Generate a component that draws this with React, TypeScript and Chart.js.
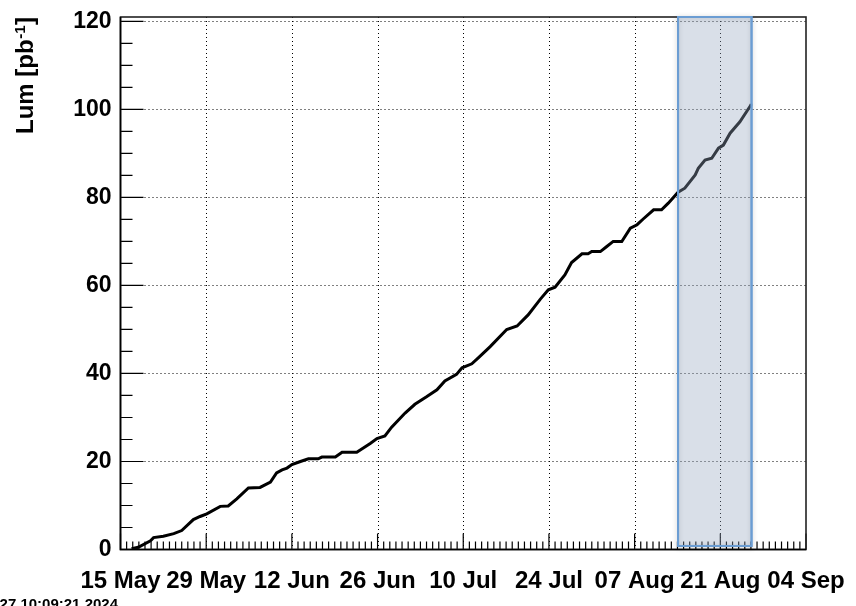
import { useEffect, useRef } from "react";
import { Chart, registerables } from "chart.js";

Chart.register(...registerables);

// Days since 15 May 2024
const xTickDays = [0, 14, 28, 42, 56, 70, 84, 98, 112];
const xTickLabels = ["15 May", "29 May", "12 Jun", "26 Jun", "10 Jul", "24 Jul", "07 Aug", "21 Aug", "04 Sep"];
const yTicks = [0, 20, 40, 60, 80, 100, 120];

const days = [
  1.8, 2.9, 4.9, 5.4, 7.0, 8.7, 10.0, 11.9, 13.0, 14.1, 16.3, 17.6, 19.0, 20.9, 22.8, 24.5, 25.5, 26.4, 27.2, 28.0,
  29.4, 30.7, 32.3, 32.9, 35.1, 36.2, 38.6, 40.8, 41.9, 43.2, 44.3, 46.5, 48.1, 50.0, 51.7, 53.0, 54.9, 55.8, 57.4,
  58.5, 60.4, 63.1, 64.8, 66.6, 68.6, 69.9, 71.0, 72.6, 73.7, 75.4, 76.4, 77.0, 78.4, 79.4, 80.5, 81.9, 83.3, 84.4,
  85.4, 87.1, 88.4, 89.5, 91.1, 92.2, 93.9, 94.4, 95.5, 96.6, 97.7, 98.5, 99.6, 101.2, 103.0,
];
const lum = [
  0.2, 0.5, 2.0, 2.7, 3.0, 3.6, 4.3, 6.8, 7.5, 8.1, 9.8, 9.9, 11.5, 14.0, 14.1, 15.3, 17.4, 18.1, 18.5, 19.3,
  20.0, 20.6, 20.6, 21.0, 21.0, 22.1, 22.1, 24.1, 25.2, 25.8, 27.8, 31.0, 33.0, 34.7, 36.3, 38.3, 39.8, 41.3, 42.2,
  43.6, 46.1, 50.0, 50.8, 53.3, 56.9, 59.0, 59.6, 62.4, 65.2, 67.2, 67.2, 67.7, 67.7, 68.8, 70.0, 70.0, 73.0, 73.8,
  75.1, 77.2, 77.2, 78.7, 81.2, 82.1, 85.1, 86.6, 88.5, 88.9, 91.2, 91.9, 94.6, 97.2, 101.0,
];

const highlightStart = 91.1;
const highlightEnd = 103.1;
const highlightBottom = 0.8;

const xMin = 0;
const xMax = 112;
const yMin = 0;
const yMax = 121;

const yTitleMain = "Lum [pb";
const yTitleSup = "-1";
const yTitleEnd = "]";
const timestamp = "Tue Aug 27 10:09:21 2024";

const FONT = '"Liberation Sans", Arial, Helvetica, sans-serif';

const rootPlugin = {
  id: "rootStyle",
  beforeDatasetsDraw(chart: any) {
    const { ctx, chartArea: a, scales } = chart;
    const x = scales.x;
    const y = scales.y;
    ctx.save();
    ctx.strokeStyle = "#000";
    ctx.lineWidth = 1;
    ctx.setLineDash([1, 3]);
    ctx.beginPath();
    for (const d of xTickDays) {
      if (d === xMin || d === xMax) continue;
      const px = Math.round(x.getPixelForValue(d)) + 0.5;
      ctx.moveTo(px, a.top);
      ctx.lineTo(px, a.bottom);
    }
    for (const v of yTicks) {
      if (v === yMin) continue;
      const py = Math.round(y.getPixelForValue(v)) + 0.5;
      ctx.moveTo(a.left, py);
      ctx.lineTo(a.right, py);
    }
    ctx.stroke();
    ctx.restore();
  },
  afterDatasetsDraw(chart: any) {
    const { ctx, chartArea: a, scales } = chart;
    const x = scales.x;
    const y = scales.y;
    ctx.save();
    // ticks
    ctx.strokeStyle = "#000";
    ctx.lineWidth = 1.2;
    ctx.beginPath();
    for (let v = yMin; v <= 120; v += 5) {
      const py = y.getPixelForValue(v);
      const len = v % 20 === 0 ? 23 : 12;
      ctx.moveTo(a.left, py);
      ctx.lineTo(a.left + len, py);
    }
    for (let d = xMin; d <= xMax; d += 1) {
      const px = x.getPixelForValue(d);
      const len = d % 14 === 0 ? 16 : 8;
      ctx.moveTo(px, a.bottom);
      ctx.lineTo(px, a.bottom - len);
    }
    ctx.stroke();
    // frame
    ctx.lineWidth = 1.6;
    ctx.strokeStyle = "#222";
    ctx.strokeRect(a.left, a.top, a.right - a.left, a.bottom - a.top);
    ctx.strokeStyle = "#000";
    ctx.beginPath();
    ctx.moveTo(a.left, a.top);
    ctx.lineTo(a.left, a.bottom);
    ctx.lineTo(a.right, a.bottom);
    ctx.stroke();
    // highlight box
    const bx0 = x.getPixelForValue(highlightStart);
    const bx1 = x.getPixelForValue(highlightEnd);
    const by0 = y.getPixelForValue(yMax);
    const by1 = y.getPixelForValue(highlightBottom);
    ctx.save();
    ctx.shadowColor = "rgba(0,0,0,0.25)";
    ctx.shadowBlur = 5;
    ctx.shadowOffsetY = 1;
    ctx.strokeStyle = "#6b9dd3";
    ctx.lineWidth = 2;
    ctx.strokeRect(bx0, by0, bx1 - bx0, by1 - by0);
    ctx.restore();
    ctx.fillStyle = "rgba(150,165,190,0.36)";
    ctx.fillRect(bx0 + 1, by0 + 1, bx1 - bx0 - 2, by1 - by0 - 2);
    ctx.strokeStyle = "#6b9dd3";
    ctx.lineWidth = 2;
    ctx.strokeRect(bx0, by0, bx1 - bx0, by1 - by0);
    ctx.restore();
  },
  afterDraw(chart: any) {
    const { ctx, chartArea: a } = chart;
    ctx.save();
    // y title
    const mainFont = `bold 24px ${FONT}`;
    const supFont = `bold 15px ${FONT}`;
    ctx.font = mainFont;
    const w1 = ctx.measureText(yTitleMain).width;
    const w3 = ctx.measureText(yTitleEnd).width;
    ctx.font = supFont;
    const w2 = ctx.measureText(yTitleSup).width;
    const total = w1 + w2 + w3 + 1;
    ctx.translate(33, a.top + total);
    ctx.rotate(-Math.PI / 2);
    ctx.fillStyle = "#000";
    ctx.textBaseline = "alphabetic";
    ctx.textAlign = "left";
    ctx.font = mainFont;
    ctx.fillText(yTitleMain, 0, 0);
    ctx.font = supFont;
    ctx.fillText(yTitleSup, w1 + 0.5, -8);
    ctx.font = mainFont;
    ctx.fillText(yTitleEnd, w1 + w2 + 1, 0);
    ctx.restore();
    // timestamp
    ctx.save();
    ctx.font = `bold 15px ${FONT}`;
    ctx.fillStyle = "#000";
    ctx.textAlign = "right";
    ctx.textBaseline = "alphabetic";
    ctx.fillText(timestamp, 118, 609);
    ctx.restore();
  },
};

const zeroPad = (s: any) => {
  s.paddingTop = 0;
  s.paddingBottom = 0;
  s.paddingLeft = 0;
  s.paddingRight = 0;
};

export default function App() {
  const ref = useRef<HTMLCanvasElement | null>(null);
  useEffect(() => {
    document.body.style.margin = "0";
    const canvas = ref.current;
    if (!canvas) return;
    const last = days.length - 1;
    const chart = new Chart(canvas, {
      type: "line",
      data: {
        datasets: [
          {
            data: days.map((d, i) => ({ x: d, y: lum[i] })),
            borderColor: "#000",
            backgroundColor: "#000",
            borderWidth: 3,
            tension: 0,
            fill: false,
            pointRadius: (c: any) => (c.dataIndex === last ? 1.8 : 0),
            pointStyle: "rect",
            pointBorderWidth: 0,
          },
        ],
      },
      options: {
        animation: false,
        responsive: false,
        devicePixelRatio: 1,
        layout: { padding: { top: 17, right: 50, left: 0, bottom: 0 } },
        plugins: { legend: { display: false }, tooltip: { enabled: false }, title: { display: false } },
        scales: {
          x: {
            type: "linear",
            min: xMin,
            max: xMax,
            afterBuildTicks: (s: any) => {
              s.ticks = xTickDays.map((v) => ({ value: v }));
            },
            afterFit: (s: any) => {
              s.height = 56.5;
              zeroPad(s);
            },
            grid: { display: false, drawTicks: false },
            border: { display: false },
            ticks: {
              autoSkip: false,
              maxRotation: 0,
              minRotation: 0,
              padding: 17,
              color: "#000",
              font: { family: FONT, size: 24, weight: "bold" },
              callback: (v: any) => {
                const i = xTickDays.indexOf(Number(v));
                return i >= 0 ? xTickLabels[i] : "";
              },
            },
          },
          y: {
            type: "linear",
            min: yMin,
            max: yMax,
            afterBuildTicks: (s: any) => {
              s.ticks = yTicks.map((v) => ({ value: v }));
            },
            afterFit: (s: any) => {
              s.width = 120.5;
              zeroPad(s);
            },
            grid: { display: false, drawTicks: false },
            border: { display: false },
            ticks: {
              autoSkip: false,
              padding: 9,
              color: "#000",
              font: { family: FONT, size: 23, weight: "bold" },
            },
          },
        },
      },
      plugins: [rootPlugin],
    } as any);
    return () => chart.destroy();
  }, []);
  return (
    <div style={{ width: 856, height: 606, position: "relative", background: "#fff" }}>
      <canvas ref={ref} width={856} height={606} style={{ display: "block" }} />
    </div>
  );
}
